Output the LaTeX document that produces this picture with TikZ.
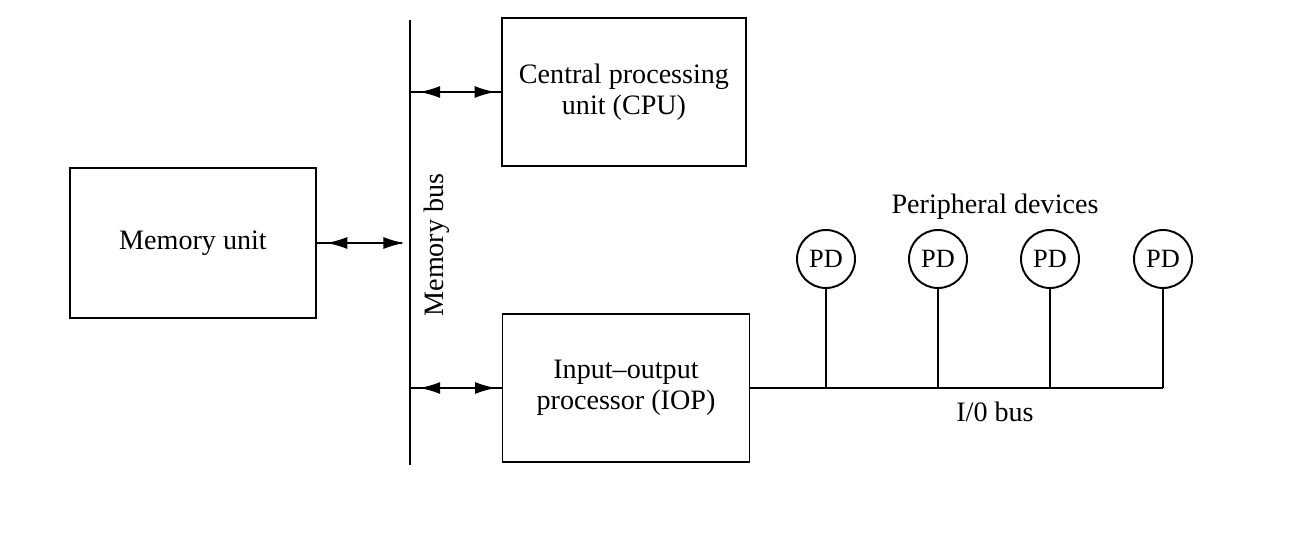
\documentclass[tikz,border=0pt]{standalone}
\usepackage{fontspec}
\setmainfont{Liberation Serif}
\usetikzlibrary{arrows.meta,decorations.markings}

\tikzset{
  unitbox/.style={draw, line width=1.1pt, inner sep=0pt, align=center},
  pd/.style={draw, circle, line width=1.1pt, minimum size=1.16cm, inner sep=0pt,
    font=\fontsize{15}{17}\selectfont},
  busarrow/.style={line width=1.1pt, postaction={decorate}, decoration={markings,
    mark=at position 0.1 with {\arrowreversed{Latex[length=0.42cm,width=0.24cm]}},
    mark=at position 0.94 with {\arrow{Latex[length=0.42cm,width=0.24cm]}}}}
}

\begin{document}
\begin{tikzpicture}[font=\fontsize{16}{17.6}\selectfont]
  \useasboundingbox (0,0) rectangle (25.96,10.76);
  %% Units
  \node[unitbox, minimum width=4.92cm, minimum height=3cm] (mem) at (3.86,5.9) {Memory unit};
  \node[unitbox, minimum width=4.88cm, minimum height=2.96cm] (cpu) at (12.48,8.92) {Central processing\\unit (CPU)};
  \node[unitbox, minimum width=4.94cm, minimum height=2.96cm] (iop) at (12.52,3.0) {Input--output\\processor (IOP)};
  %% Memory bus
  \coordinate (bustop) at (8.2,10.36);
  \coordinate (busbot) at (8.2,1.46);
  \draw[line width=1.2pt] (bustop) -- (busbot);
  \node[rotate=90] (buslabel) at (8.74,5.86) {Memory bus};
  \draw[busarrow, shorten >=0.16cm] (mem.east) -- (mem.east -| bustop);
  \draw[busarrow] (cpu.west -| bustop) -- (cpu.west);
  \draw[busarrow] (iop.west -| bustop) -- (iop.west);
  %% I/O bus and peripheral devices
  \coordinate (ioend) at (23.26,3.0);
  \draw[line width=1.1pt] (iop.east) -- (ioend);
  \foreach \x [count=\i] in {16.52,18.76,21.0,23.26} {
    \node[pd] (pd\i) at (\x,5.58) {PD};
    \draw[line width=1.1pt] (pd\i.south) -- (pd\i.south |- ioend);
  }
  \node (pdlabel) at (19.9,6.62) {Peripheral devices};
  \node (iolabel) at (19.9,2.52) {I/0 bus};
\end{tikzpicture}
\end{document}
